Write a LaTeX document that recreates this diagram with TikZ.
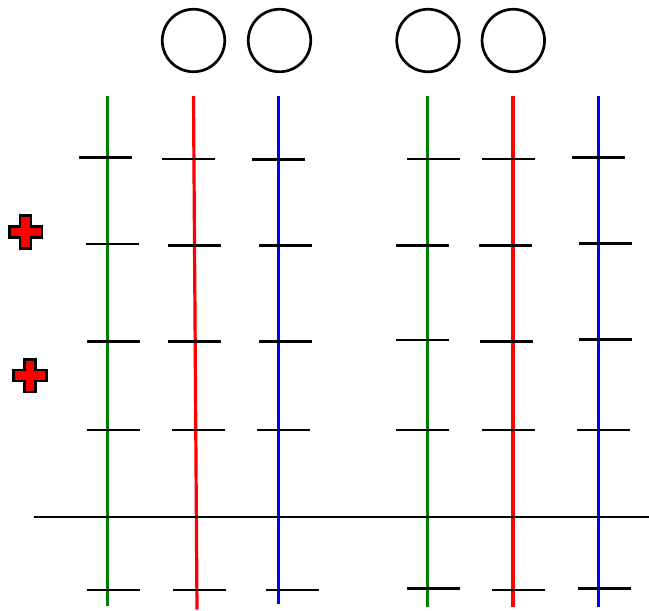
\documentclass[tikz,border=0pt]{standalone}
\usepackage{xcolor}
\usepackage{tikz}
\definecolor{rodgreen}{RGB}{0,128,0}

\begin{document}
\begin{tikzpicture}[x=1pt, y=-1pt,
        bead/.style={draw, circle, line width=2.7pt, inner sep=0pt, minimum size=62.5pt},
        rod/.style={line width=3.2pt},
        notch/.style={line width=2.7pt},
        plus/.style={fill=red, draw=black, line width=2.6pt, line join=miter}]
        \useasboundingbox (0,0) rectangle (649,611);

        % Circles
        \node[bead] (b1) at (193.5,40.5) {};
        \node[bead] (b2) at (279.5,40.5) {};
        \node[bead] (b3) at (428,40.5) {};
        \node[bead] (b4) at (513.3,40.5) {};

        % Rods
        \coordinate (g1top) at (107.7,96);  \coordinate (g1bot) at (107.7,606);
        \coordinate (r1top) at (193.5,96);  \coordinate (r1bot) at (197,609.5);
        \coordinate (u1top) at (278.3,96);  \coordinate (u1bot) at (278.3,604);
        \coordinate (g2top) at (427.7,96);  \coordinate (g2bot) at (427.7,606.5);
        \coordinate (r2top) at (513,96);    \coordinate (r2bot) at (513,606.5);
        \coordinate (u2top) at (598.3,96);  \coordinate (u2bot) at (598.3,606.5);
        \draw[rod, rodgreen] (g1top) -- (g1bot);
        \draw[rod, red] (r1top) -- (r1bot);
        \draw[rod, blue] (u1top) -- (u1bot);
        \draw[rod, rodgreen] (g2top) -- (g2bot);
        \draw[rod, red] (r2top) -- (r2bot);
        \draw[rod, blue] (u2top) -- (u2bot);

        % Base line
        \coordinate (baseL) at (33.5,517);
        \coordinate (baseR) at (649,517);
        \draw[notch] (baseL) -- (baseR);

        % Notches
        \foreach \x/\y in {105/157.7, 188/159, 278.5/159.3, 433/159, 508/159, 598.5/157.3,
                112/244, 194.5/245.3, 285.5/245.3, 422.5/245.3, 505.5/245.3, 605.5/243.7,
                113.5/341.3, 194.5/341.3, 285.5/341.3, 422.5/340, 506.5/341.3, 605.5/339.7,
                113.5/430, 198.5/430, 283.5/430, 422.5/430, 508/430, 603.5/430,
                113.5/590, 199.5/590, 292/590, 433.5/588.7, 518.5/590, 604.5/588.7}
            \draw[notch] (\x-26.5,\y) -- (\x+26.5,\y);

        % Plus signs
        \foreach \cx/\cy in {25.5/232, 30/375.5}
            \draw[plus, shift={(\cx,\cy)}] (-5.4,-16.3) -- (5.4,-16.3) -- (5.4,-5.4) -- (16.3,-5.4)
                -- (16.3,5.4) -- (5.4,5.4) -- (5.4,16.3) -- (-5.4,16.3) -- (-5.4,5.4)
                -- (-16.3,5.4) -- (-16.3,-5.4) -- (-5.4,-5.4) -- cycle;
\end{tikzpicture}
\end{document}
